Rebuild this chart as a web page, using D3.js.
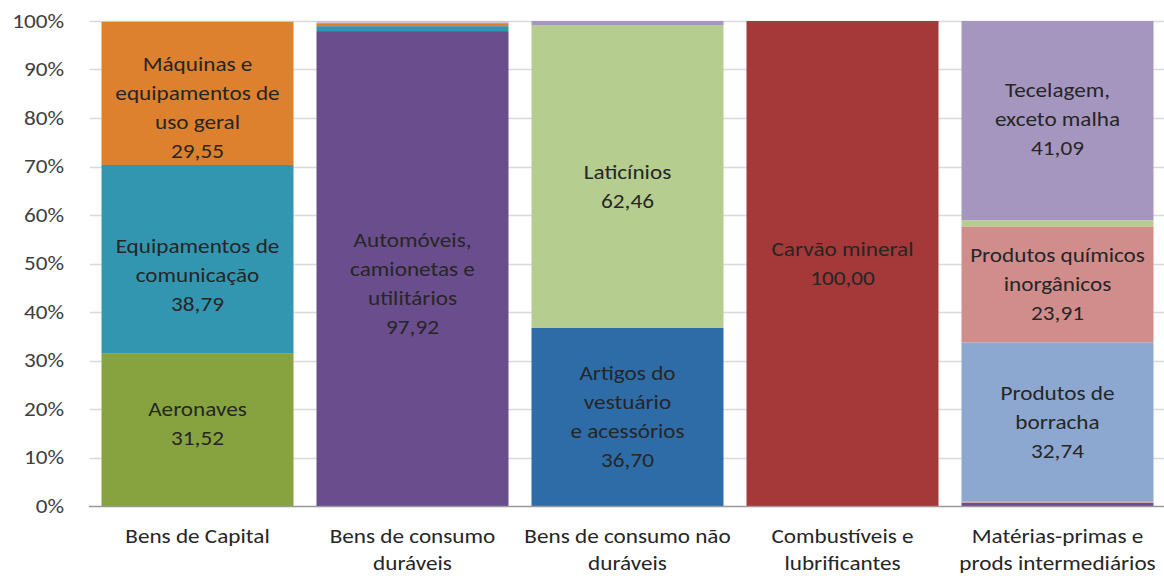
<!DOCTYPE html>
<html>
<head>
<meta charset="utf-8">
<script src="https://cdn.jsdelivr.net/npm/d3@7"></script>
<style>
  body { margin: 0; background: #fff; }
  svg text { font-family: Carlito, "Open Sans", Lato, sans-serif; fill: #262626; }
</style>
</head>
<body>
<div id="chart"></div>
<script>
// categories along the x axis (line breaks as in the original)
const categories = ["Bens de Capital", "Bens de consumo duráveis", "Bens de consumo não duráveis",
    "Combustíveis e lubrificantes", "Matérias-primas e prods intermediários"];
const categoryLines = [["Bens de Capital"], ["Bens de consumo", "duráveis"], ["Bens de consumo não", "duráveis"],
    ["Combustíveis e", "lubrificantes"], ["Matérias-primas e", "prods intermediários"]];

// shares (%) per category, bottom to top
const bensCapital = [
    {name: "Aeronaves", value: 31.52},
    {name: "Equipamentos de comunicação", value: 38.79},
    {name: "Máquinas e equipamentos de uso geral", value: 29.55},
    {name: "Outros BK", value: 0.14}
];
const bensDuraveis = [
    {name: "Automóveis, camionetas e utilitários", value: 97.92},
    {name: "Outros BD 1", value: 1.02},
    {name: "Outros BD 2", value: 0.62},
    {name: "Outros BD 3", value: 0.44}
];
const bensNaoDuraveis = [
    {name: "Artigos do vestuário e acessórios", value: 36.70},
    {name: "Laticínios", value: 62.46},
    {name: "Outros BND", value: 0.84}
];
const combustiveis = [
    {name: "Carvão mineral", value: 100.00}
];
const materiasPrimas = [
    {name: "Outros MP 1", value: 0.70},
    {name: "Outros MP 2", value: 0.30},
    {name: "Produtos de borracha", value: 32.74},
    {name: "Produtos químicos inorgânicos", value: 23.91},
    {name: "Outros MP 3", value: 1.26},
    {name: "Tecelagem, exceto malha", value: 41.09}
];
const yTicks = [0, 10, 20, 30, 40, 50, 60, 70, 80, 90, 100];

const stacks = [bensCapital, bensDuraveis, bensNaoDuraveis, combustiveis, materiasPrimas];

// colours and label wrapping
const colors = {
    "Aeronaves": "#86a33f",
    "Equipamentos de comunicação": "#3396b1",
    "Máquinas e equipamentos de uso geral": "#dd812e",
    "Outros BK": "#c8c8d0",
    "Automóveis, camionetas e utilitários": "#6a4d8c",
    "Outros BD 1": "#3396b1",
    "Outros BD 2": "#dd812e",
    "Outros BD 3": "#c9c3dc",
    "Artigos do vestuário e acessórios": "#2e6ca8",
    "Laticínios": "#b5cd8f",
    "Outros BND": "#a596bf",
    "Carvão mineral": "#a53838",
    "Outros MP 1": "#6a4d8c",
    "Outros MP 2": "#c9a0a4",
    "Produtos de borracha": "#8da8d0",
    "Produtos químicos inorgânicos": "#d08d8b",
    "Outros MP 3": "#b5cd8f",
    "Tecelagem, exceto malha": "#a596bf"
};
const labelLines = {
    "Aeronaves": ["Aeronaves"],
    "Equipamentos de comunicação": ["Equipamentos de", "comunicação"],
    "Máquinas e equipamentos de uso geral": ["Máquinas e", "equipamentos de", "uso geral"],
    "Automóveis, camionetas e utilitários": ["Automóveis,", "camionetas e", "utilitários"],
    "Artigos do vestuário e acessórios": ["Artigos do", "vestuário", "e acessórios"],
    "Laticínios": ["Laticínios"],
    "Carvão mineral": ["Carvão mineral"],
    "Produtos de borracha": ["Produtos de", "borracha"],
    "Produtos químicos inorgânicos": ["Produtos químicos", "inorgânicos"],
    "Tecelagem, exceto malha": ["Tecelagem,", "exceto malha"]
};
// small vertical nudges so labels sit where the original placed them
const labelNudge = {
    "Aeronaves": -6, "Equipamentos de comunicação": 16, "Máquinas e equipamentos de uso geral": 14,
    "Automóveis, camionetas e utilitários": 15, "Laticínios": 10, "Tecelagem, exceto malha": -2
};

const width = 1164, height = 576;
const fontSize = "20px";
const stretch = 1.16;   // the original text is a little wider than Calibri
const svg = d3.select("#chart").append("svg")
    .attr("width", width)
    .attr("height", height);

const x = d3.scaleBand()
    .domain(categories)
    .range([90, 1165])
    .paddingInner(0.107)
    .paddingOuter(0.0535);

const y = d3.scaleLinear()
    .domain([0, 100])
    .range([506, 21]);

// multi-line text, centred on cx, stretched horizontally
function addLines(parent, cx, lines, yOf, anchor) {
    parent.append("text")
        .attr("transform", `translate(${cx},0) scale(${stretch},1)`)
        .attr("text-anchor", anchor || "middle")
        .style("font-size", fontSize)
        .selectAll("tspan")
        .data(lines)
        .enter()
        .append("tspan")
        .attr("x", 0)
        .attr("y", (t, k) => yOf(k))
        .attr("dy", "0.35em")
        .text(t => t);
}

// gridlines
svg.append("g")
    .selectAll("line")
    .data(yTicks.filter(d => d > 0))
    .enter()
    .append("line")
    .attr("x1", 90)
    .attr("x2", width)
    .attr("y1", d => Math.round(y(d)) + 0.5)
    .attr("y2", d => Math.round(y(d)) + 0.5)
    .attr("stroke", "#d9d9d9")
    .attr("stroke-width", 1.5);

// y axis labels
const yAxisG = svg.append("g");
yTicks.forEach(d => {
    addLines(yAxisG, 64, [d + "%"], () => y(d), "end");
});
yAxisG.selectAll("text").style("fill", "#404040");

// stacked bars
stacks.forEach((stack, i) => {
    const cat = categories[i];
    let acc = 0;
    const segs = stack.map(s => {
        const seg = {name: s.name, value: s.value, y0: acc, y1: acc + s.value};
        acc += s.value;
        return seg;
    });

    const g = svg.append("g");

    g.selectAll("rect")
        .data(segs)
        .enter()
        .append("rect")
        .attr("x", x(cat))
        .attr("width", x.bandwidth())
        .attr("y", d => y(d.y1))
        .attr("height", d => y(d.y0) - y(d.y1))
        .attr("fill", d => colors[d.name]);

    segs.filter(d => labelLines[d.name]).forEach(d => {
        const lines = labelLines[d.name].concat([d3.format(".2f")(d.value).replace(".", ",")]);
        const cy = (y(d.y0) + y(d.y1)) / 2 + (labelNudge[d.name] || 0);
        addLines(g, x(cat) + x.bandwidth() / 2, lines, k => cy + (k - (lines.length - 1) / 2) * 29);
    });
});

// baseline
svg.append("line")
    .attr("x1", 89)
    .attr("x2", width)
    .attr("y1", y(0) + 0.5)
    .attr("y2", y(0) + 0.5)
    .attr("stroke", "#999")
    .attr("stroke-width", 1.5);

// x axis labels
const xAxisG = svg.append("g");
categories.forEach((cat, i) => {
    addLines(xAxisG, x(cat) + x.bandwidth() / 2, categoryLines[i], k => 536 + k * 27.5);
});
</script>
</body>
</html>
